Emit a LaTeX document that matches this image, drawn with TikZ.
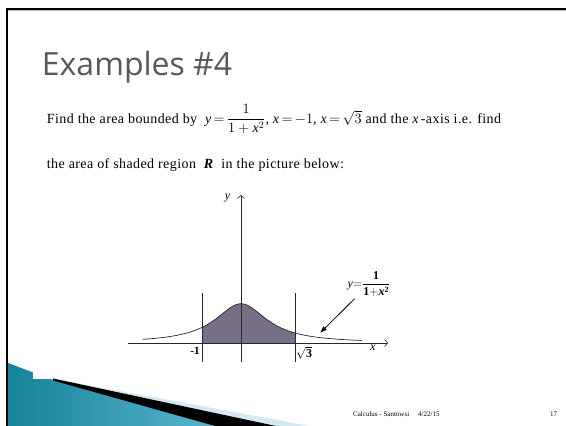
\documentclass[tikz,border=0pt]{standalone}
\usepackage{amsmath,amssymb}
\usepackage{fontspec}
\setmainfont{Liberation Serif}
\newfontfamily\titlefont{Open Sans}
\newfontfamily\bodyfont[LetterSpace=3]{Liberation Serif}
\usepackage{tikz}
\usetikzlibrary{arrows.meta,calc,positioning}
\definecolor{shadecol}{RGB}{120,112,136}
\definecolor{tealdark}{RGB}{22,130,155}
\definecolor{teallight}{RGB}{88,182,206}
\definecolor{paleblue}{RGB}{214,233,242}
\definecolor{titlegray}{RGB}{88,88,88}
\newcommand{\vv}[1]{\textit{#1}}

\begin{document}
\begin{tikzpicture}[x=1pt, y=-1pt, every node/.style={inner sep=0pt},
  axis/.style={line width=0.6pt, black!85},
  body/.style={anchor=base west, font=\bodyfont\fontsize{14}{16}\selectfont},
  lbl/.style={font=\fontsize{12}{12}\selectfont}]
\useasboundingbox (0,0) rectangle (566,426);
% --- cornice della slide ---
\fill[gray!55] (8,10) rectangle (566,11.2);
\fill[black] (6,8) rectangle (566,10);
\fill[black] (6,8) rectangle (8,426);
% --- decorazione in basso a sinistra ---
\fill[paleblue] (53,378.5) -- (310,426) -- (53,426) -- cycle;
\shade[left color=tealdark, right color=teallight] (8,363) -- (53,380) -- (215,426) -- (8,426) -- cycle;
\fill[black] (53,378.5) -- (276,426) -- (215,426) -- (53,380.5) -- cycle;
\fill[white] (33,360) rectangle (53,379);
% --- testo ---
\node[anchor=base west, font=\titlefont\fontsize{32}{32}\selectfont, text=titlegray] (title) at (41.7,75) {Examples \#4};
\node[body] (line1) at (46.7,123)
  {Find the area bounded by \ $\vv{y}\,{=}\,\dfrac{1}{1+\vv{x}^{2}}$,\ $\vv{x}\,{=}\,{-}1$,\ $\vv{x}\,{=}\,\sqrt{3}$ and the $\vv{x}$\,-axis i.e. find};
\node[body] (line2) at (46.7,168)
  {the area of shaded region \ $\textbf{\textit{R}}$ \ in the picture below:};
% --- grafico: area sotto la curva ---
\begin{scope}[shift={(241,343)}, x=31.6pt, y=39.3pt]
  \fill[shadecol] (-1.21,0) -- plot[domain=-1.21:1.731, samples=60] (\x,{1/(1+\x*\x)}) -- (1.731,0) -- cycle;
  \draw[line width=0.7pt, black!85] plot[domain=-3.11:3.82, samples=120, smooth] (\x,{1/(1+\x*\x)});
\end{scope}
\draw[axis, -{Straight Barb[length=3pt, width=7pt]}] (128,343) -- (388,343);
\draw[axis, -{Straight Barb[length=3pt, width=7pt]}] (241,362) -- (241,195);
\draw[axis] (202.7,293) -- (202.7,362);
\draw[axis] (295.7,293) -- (295.7,362);
\node[lbl, font=\itshape\fontsize{12}{12}\selectfont] (ylab) at (227.5,198) {y};
\node[lbl, font=\itshape\fontsize{12}{12}\selectfont] (xlab) at (372.7,347.5) {x};
\node[lbl, font=\bfseries\fontsize{11}{11}\selectfont] (mlab) at (195,351) {-1};
\node[lbl] (slab) at (304,353) {$\sqrt{\mathbf{3}}$};
\node[lbl] (flab) at (369,284) {$\mathit{y}{=}\dfrac{\mathbf{1}}{\mathbf{1{+}}\textbf{\textit{x}}^{\textbf{2}}}$};
\coordinate (ftip) at (320,333);
\draw[line width=0.8pt, -{Latex[length=7pt, width=5pt]}] (flab.south west) ++(7,2) -- (ftip);
% --- pie' di pagina ---
\node[anchor=base west, font=\fontsize{7}{8}\selectfont] (foot) at (353,416) {Calculus - Santowsi\hspace{9pt}4/22/15};
\node[anchor=base west, font=\fontsize{7}{8}\selectfont] (page) at (550,416) {17};
\end{tikzpicture}
\end{document}
